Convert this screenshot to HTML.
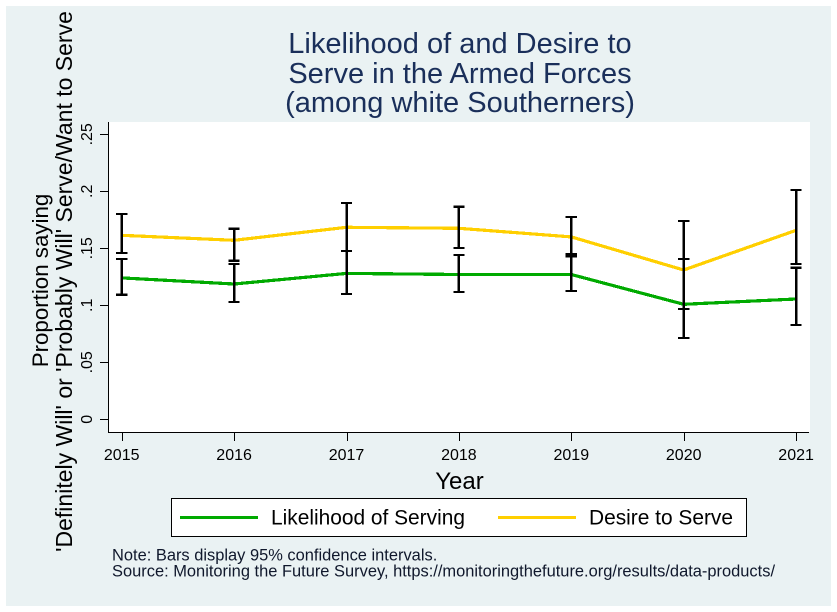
<!DOCTYPE html>
<html lang="en">
<head>
<meta charset="utf-8">
<title>Likelihood of and Desire to Serve in the Armed Forces</title>
<style>
html,body{margin:0;padding:0;background:#fff;}
svg{display:block;}
text{font-family:"Liberation Sans",Arial,sans-serif;fill:#000;}
</style>
</head>
<body>
<svg id="chart" width="837" height="612" viewBox="0 0 837 612" xmlns="http://www.w3.org/2000/svg">
  <rect x="0" y="0" width="837" height="612" fill="#ffffff"/>
  <rect x="6" y="6" width="825" height="600" fill="#eaf2f3"/>
  <rect x="108" y="122" width="702" height="310" fill="#ffffff"/>
  <g fill="#1a2f5a" font-size="29" text-anchor="middle">
    <text x="460" y="53" style="fill:#1a2f5a">Likelihood of and Desire to</text>
    <text x="460" y="83" style="fill:#1a2f5a">Serve in the Armed Forces</text>
    <text x="460" y="112" style="fill:#1a2f5a">(among white Southerners)</text>
  </g>
  <g id="marks"></g>
  <g id="axes"></g>
  <text font-size="22.3" text-anchor="middle" transform="translate(48,280.5) rotate(-90)">Proportion saying</text>
  <text font-size="23" text-anchor="middle" transform="translate(72,281.5) rotate(-90)">'Definitely Will' or 'Probably Will' Serve/Want to Serve</text>
  <text font-size="24" text-anchor="middle" x="459.5" y="489">Year</text>
  <g>
    <rect x="171.5" y="498.5" width="575" height="38" fill="#ffffff" stroke="#000000" stroke-width="1"/>
    <line x1="180" y1="517.5" x2="258" y2="517.5" stroke="#00aa00" stroke-width="3" shape-rendering="crispEdges"/>
    <text font-size="20.9" x="271" y="524.5">Likelihood of Serving</text>
    <line x1="498" y1="517.5" x2="576" y2="517.5" stroke="#ffcf00" stroke-width="3" shape-rendering="crispEdges"/>
    <text font-size="20.9" x="589" y="524.5">Desire to Serve</text>
  </g>
  <text font-size="16.45" x="112" y="560.5" style="fill:#10182c">Note: Bars display 95% confidence intervals.</text>
  <text font-size="16.45" x="112" y="576.5" style="fill:#10182c">Source: Monitoring the Future Survey, https://monitoringthefuture.org/results/data-products/</text>
</svg>
<script>
const years = [2015, 2016, 2017, 2018, 2019, 2020, 2021];
const yTickValues = [0, 0.05, 0.1, 0.15, 0.2, 0.25];
const yTickLabels = ["0", ".05", ".1", ".15", ".2", ".25"];
const likelihood = [0.124, 0.1187, 0.128, 0.127, 0.127, 0.1009, 0.1055];
const likelihoodHigh = [0.1406, 0.1362, 0.1476, 0.1442, 0.143, 0.1406, 0.133];
const likelihoodLow = [0.1093, 0.1029, 0.1099, 0.1117, 0.1125, 0.0713, 0.0827];
const desire = [0.1614, 0.157, 0.1684, 0.1675, 0.16, 0.131, 0.1658];
const desireHigh = [0.18, 0.1672, 0.1897, 0.1865, 0.1775, 0.174, 0.2012];
const desireLow = [0.1459, 0.1391, 0.1476, 0.1503, 0.1447, 0.0968, 0.1362];

const NS = "http://www.w3.org/2000/svg";
const marks = document.getElementById("marks");
const axes = document.getElementById("axes");
function xScale(year) { return 121.7 + (year - 2015) * 112.4; }
function yScale(v) { return 419.3 - v * 1140; }
function make(tag, attrs, parent) {
  const node = document.createElementNS(NS, tag);
  for (const k in attrs) node.setAttribute(k, attrs[k]);
  parent.appendChild(node);
  return node;
}
function seriesLine(values, color) {
  const pts = values.map(function (v, i) { return xScale(years[i]).toFixed(1) + "," + yScale(v).toFixed(1); }).join(" ");
  return make("polyline", { points: pts, fill: "none", stroke: color, "stroke-width": 3.2, "shape-rendering": "crispEdges" }, marks);
}
function errorBar(year, high, low) {
  const x = xScale(year);
  const g = make("g", {}, marks);
  make("line", { x1: x, x2: x, y1: yScale(high), y2: yScale(low), stroke: "#000", "stroke-width": 2.5, "shape-rendering": "crispEdges" }, g);
  make("line", { x1: x - 5.6, x2: x + 5.6, y1: yScale(high), y2: yScale(high), stroke: "#000", "stroke-width": 2.2, "shape-rendering": "crispEdges" }, g);
  make("line", { x1: x - 5.6, x2: x + 5.6, y1: yScale(low), y2: yScale(low), stroke: "#000", "stroke-width": 2.2, "shape-rendering": "crispEdges" }, g);
  return g;
}

const likelihoodLine = seriesLine(likelihood, "#00aa00");


const desireLine = seriesLine(desire, "#ffcf00");



years.forEach(function (year, i) {
  const a = errorBar(year, likelihoodHigh[i], likelihoodLow[i]);
  
  
  const b = errorBar(year, desireHigh[i], desireLow[i]);
  
  
});

const yAxisLine = make("line", { x1: 108.5, x2: 108.5, y1: 122, y2: 433, stroke: "#000", "stroke-width": 1 }, axes);


const xAxisLine = make("line", { x1: 108, x2: 809, y1: 432.5, y2: 432.5, stroke: "#000", "stroke-width": 1 }, axes);



yTickValues.forEach(function (v, i) {
  const y = Math.round(yScale(v)) + 0.5;
  const tick = make("line", { x1: 100, x2: 108, y1: y, y2: y, stroke: "#000", "stroke-width": 1 }, axes);
  
  
  const label = make("text", { "font-size": 16, "text-anchor": "middle", transform: "translate(92," + yScale(v).toFixed(1) + ") rotate(-90)" }, axes);
  label.textContent = yTickLabels[i];
  
  
});

years.forEach(function (year) {
  const x = Math.round(xScale(year)) + 0.5;
  const tick = make("line", { x1: x, x2: x, y1: 433, y2: 441, stroke: "#000", "stroke-width": 1 }, axes);
  
  
  const label = make("text", { "font-size": 16, "text-anchor": "middle", x: xScale(year).toFixed(1), y: 460 }, axes);
  label.textContent = String(year);
  
  
});
</script>
</body>
</html>
